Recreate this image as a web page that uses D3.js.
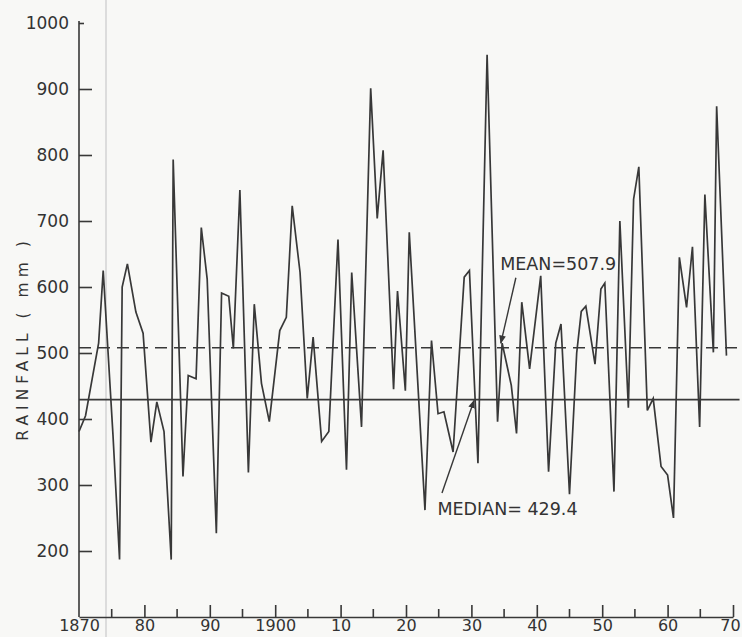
<!DOCTYPE html>
<html>
<head>
<meta charset="utf-8">
<script src="https://cdn.jsdelivr.net/npm/d3@7"></script>
<style>
  html, body { margin: 0; padding: 0; background: #f8f8f6; }
  svg { display: block; }
  text { font-family: "DejaVu Sans", sans-serif; fill: #333; }
</style>
</head>
<body>
<svg id="chart" width="742" height="637"></svg>
<script>
// Year positions and annual rainfall (mm)
const years = [
  1870.0, 1871.0, 1872.0, 1873.0, 1873.7, 1875.2, 1876.2, 1876.6, 1877.4, 1878.7,
  1879.8, 1881.0, 1881.9, 1883.0, 1884.1, 1884.4, 1885.9, 1886.7, 1887.9, 1888.7,
  1889.6, 1891.0, 1891.8, 1892.9, 1893.6, 1894.6, 1895.9, 1896.8, 1897.9, 1899.1,
  1900.7, 1901.7, 1902.6, 1903.8, 1904.9, 1905.8, 1907.1, 1908.2, 1909.6, 1910.9,
  1911.7, 1913.2, 1914.6, 1915.6, 1916.5, 1918.1, 1918.7, 1919.9, 1920.5, 1922.9,
  1923.9, 1924.9, 1925.8, 1927.2, 1928.9, 1929.7, 1931.0, 1932.4, 1934.0, 1934.7,
  1936.1, 1936.9, 1937.7, 1938.9, 1940.6, 1941.8, 1942.9, 1943.7, 1945.0, 1946.1,
  1946.8, 1947.5, 1948.9, 1949.8, 1950.4, 1951.8, 1952.7, 1954.0, 1954.8, 1955.6,
  1956.9, 1957.8, 1959.0, 1960.0, 1960.9, 1961.8, 1962.9, 1963.8, 1964.9, 1965.7,
  1967.0, 1967.5, 1969.0
];
const rainfall = [
  381, 405, 460, 515, 625, 375, 187, 600, 635, 562,
  530, 365, 426, 381, 187, 793, 313, 466, 461, 690,
  612, 227, 591, 586, 507, 747, 319, 574, 454, 396,
  534, 554, 723, 622, 431, 524, 366, 381, 672, 323,
  622, 388, 901, 704, 807, 445, 594, 443, 683, 262,
  519, 408, 411, 350, 615, 625, 333, 952, 396, 515,
  451, 378, 577, 476, 617, 320, 515, 544, 286, 500,
  563, 571, 483, 597, 606, 290, 700, 417, 733, 782,
  413, 431, 328, 315, 250, 645, 569, 661, 388, 740,
  501, 874, 496
];
const meanValue = 507.9;
const medianValue = 429.4;

const yTicks = [200, 300, 400, 500, 600, 700, 800, 900, 1000];
const yTickLabels = ["200", "300", "400", "500", "600", "700", "800", "900", "1000"];
const xMajorTicks = [1870, 1880, 1890, 1900, 1910, 1920, 1930, 1940, 1950, 1960, 1970];
const xMajorLabels = ["1870", "80", "90", "1900", "10", "20", "30", "40", "50", "60", "70"];
const xMinorTicks = [1875, 1885, 1895, 1905, 1915, 1925, 1935, 1945, 1955, 1965];

const svg = d3.select("#chart");
const ink = "#383838";

const x = d3.scaleLinear().domain([1870, 1970]).range([79, 733]);
const y = d3.scaleLinear().domain([100, 1000]).range([617, 23]);

// faint scan fold line
svg.append("line")
  .attr("x1", 106).attr("x2", 106).attr("y1", 0).attr("y2", 637)
  .attr("stroke", "#dcdcdc").attr("stroke-width", 2);

// Y axis
const yAxis = d3.axisLeft(y)
  .tickValues(yTicks)
  .tickFormat((d, i) => yTickLabels[i])
  .tickSizeInner(-13).tickSizeOuter(0).tickPadding(10);
const gy = svg.append("g").attr("transform", `translate(${x(1870)},0)`).call(yAxis);
gy.select(".domain").attr("stroke", ink).attr("stroke-width", 1.6)
  .attr("d", `M0,${y(100)}V${y(1000) - 2}`);
gy.selectAll(".tick line").attr("stroke", ink).attr("stroke-width", 1.6)
  .attr("x2", d => d === 1000 ? 5 : 13);
gy.selectAll(".tick text").attr("font-size", 17).attr("fill", "#333")
  .attr("font-family", "DejaVu Sans, sans-serif");

// X axis
const xAxis = d3.axisBottom(x)
  .tickValues(xMajorTicks)
  .tickFormat((d, i) => xMajorLabels[i])
  .tickSizeInner(-12).tickSizeOuter(0).tickPadding(3);
const gx = svg.append("g").attr("transform", `translate(0,${y(100)})`).call(xAxis);
gx.select(".domain").attr("stroke", ink).attr("stroke-width", 1.6);
gx.selectAll(".tick line").attr("stroke", ink).attr("stroke-width", 1.6)
  .attr("y2", d => d === 1870 ? 0 : -12);
gx.selectAll(".tick text").attr("font-size", 16).attr("fill", "#333")
  .attr("font-family", "DejaVu Sans, sans-serif")
  .attr("dx", d => d === 1970 ? -3 : 0);

gx.selectAll(".minor").data(xMinorTicks).enter().append("line")
  .attr("x1", d => x(d)).attr("x2", d => x(d))
  .attr("y1", 0).attr("y2", -8)
  .attr("stroke", ink).attr("stroke-width", 1.6);

// Y axis title
svg.append("text")
  .attr("transform", `translate(28,${y(522)}) rotate(-90)`)
  .attr("text-anchor", "middle")
  .attr("font-size", 15.5)
  .attr("letter-spacing", 5)
  .attr("fill", "#444")
  .text("RAINFALL ( mm )");

// Mean and median lines
svg.append("line")
  .attr("x1", x(1870)).attr("x2", x(1971)).attr("y1", y(meanValue)).attr("y2", y(meanValue))
  .attr("stroke", ink).attr("stroke-width", 1.6).attr("stroke-dasharray", "12,7");
svg.append("line")
  .attr("x1", x(1870)).attr("x2", x(1971)).attr("y1", y(medianValue)).attr("y2", y(medianValue))
  .attr("stroke", ink).attr("stroke-width", 1.6);

// Rainfall series
const pts = years.map((yr, i) => [yr, rainfall[i]]);
svg.append("path")
  .datum(pts)
  .attr("fill", "none")
  .attr("stroke", ink)
  .attr("stroke-width", 1.7)
  .attr("stroke-linejoin", "miter")
  .attr("d", d3.line().x(d => x(d[0])).y(d => y(d[1])));

// Arrow marker
svg.append("defs").append("marker")
  .attr("id", "arr").attr("viewBox", "0 0 10 10")
  .attr("refX", 9).attr("refY", 5)
  .attr("markerWidth", 6).attr("markerHeight", 6)
  .attr("orient", "auto")
  .append("path").attr("d", "M0,1 L10,5 L0,9 Z").attr("fill", ink);

// Annotations
svg.append("line")
  .attr("x1", x(1936.8)).attr("y1", y(614))
  .attr("x2", x(1934.5)).attr("y2", y(515))
  .attr("stroke", ink).attr("stroke-width", 1.4).attr("marker-end", "url(#arr)");
svg.append("text")
  .attr("x", x(1934.4)).attr("y", y(626))
  .attr("font-size", 17.5).attr("fill", "#333")
  .text("MEAN=507.9");

svg.append("line")
  .attr("x1", x(1925.5)).attr("y1", y(288))
  .attr("x2", x(1930.4)).attr("y2", y(428))
  .attr("stroke", ink).attr("stroke-width", 1.4).attr("marker-end", "url(#arr)");
svg.append("text")
  .attr("x", x(1924.8)).attr("y", y(254))
  .attr("font-size", 17.5).attr("fill", "#333")
  .text("MEDIAN= 429.4");
</script>
</body>
</html>
